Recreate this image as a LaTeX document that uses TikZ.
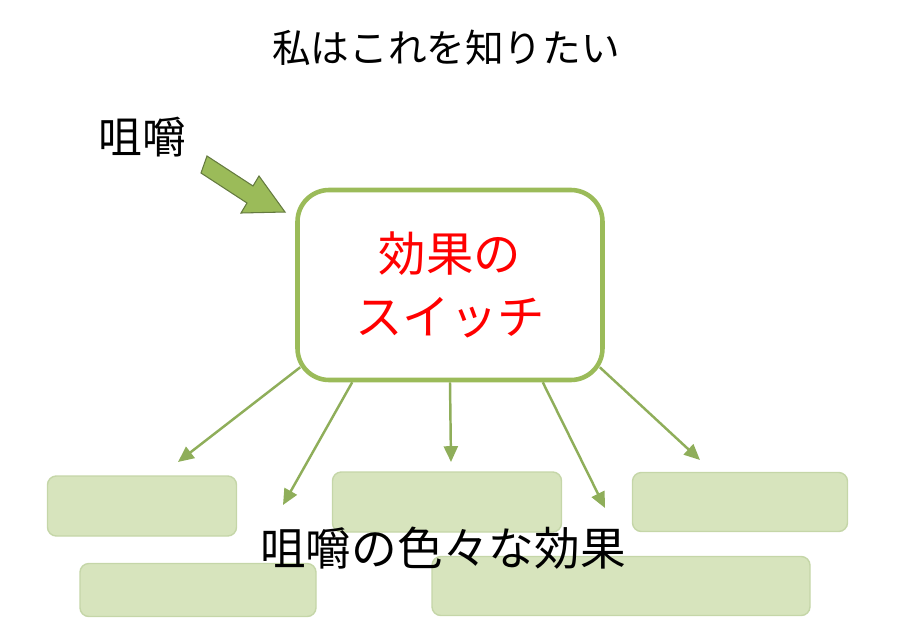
\documentclass[tikz,border=0pt]{standalone}
\usepackage{fontspec}
\setmainfont{Noto Sans CJK JP}
\usetikzlibrary{arrows.meta}
\definecolor{leaf}{HTML}{9BBB59}
\definecolor{stem}{HTML}{8FAE5A}
\definecolor{pale}{HTML}{D7E4BD}
\definecolor{paleedge}{HTML}{C5D6A8}
\begin{document}
\begin{tikzpicture}[x=0.02cm,y=-0.02cm,
   label/.style={inner sep=0, font=\fontsize{22}{26}\selectfont},
   switchbox/.style={draw=leaf, line width=2.6pt, fill=white, rounded corners=18pt, align=center, text=red, font=\fontsize{27}{36}\selectfont},
   effectbox/.style={draw=paleedge, line width=0.8pt, fill=pale, rounded corners=5pt},
   link/.style={draw=stem, line width=1.4pt, -{Triangle[length=9pt,width=8pt]}}
  ]
  \useasboundingbox (0,0) rectangle (900,636);
  \node[label] (title) at (446,48) {私はこれを知りたい};
  \node[label, font=\fontsize{25}{28}\selectfont] (chew) at (142,137) {咀嚼};
  % block arrow
  \draw[fill=leaf, draw=stem!70!black, line width=0.6pt]
    (207,156) -- (253,186) -- (259,176) -- (285,212) -- (241,213) -- (247,203) -- (201,173) -- cycle;
  \node[switchbox, minimum width=305*0.02cm, minimum height=190*0.02cm] (switch) at (450,285) {効果の\\スイッチ};
  % effect boxes
  \node[effectbox, minimum width=189*0.02cm, minimum height=60*0.02cm] (e1) at (142,506) {};
  \node[effectbox, minimum width=236*0.02cm, minimum height=53*0.02cm] (e2) at (198,590) {};
  \node[effectbox, minimum width=229*0.02cm, minimum height=60*0.02cm] (e3) at (447,502) {};
  \node[effectbox, minimum width=378*0.02cm, minimum height=59*0.02cm] (e4) at (621,586) {};
  \node[effectbox, minimum width=215*0.02cm, minimum height=59*0.02cm] (e5) at (740,502) {};
  \node[label, font=\fontsize{26}{30}\selectfont] (effects) at (443,548) {咀嚼の色々な効果};
  % links
  \coordinate (t1) at (178,462);
  \coordinate (t2) at (283,505);
  \coordinate (t3) at (451,462);
  \coordinate (t4) at (605,508);
  \coordinate (t5) at (700,460);
  \draw[link] ([shift={(5,-15)}]switch.south west) -- (t1);
  \draw[link] ([xshift=57*0.02cm]switch.south west) -- (t2);
  \draw[link] (switch.south) -- (t3);
  \draw[link] ([xshift=-62*0.02cm]switch.south east) -- (t4);
  \draw[link] ([shift={(-5,-15)}]switch.south east) -- (t5);
\end{tikzpicture}
\end{document}
